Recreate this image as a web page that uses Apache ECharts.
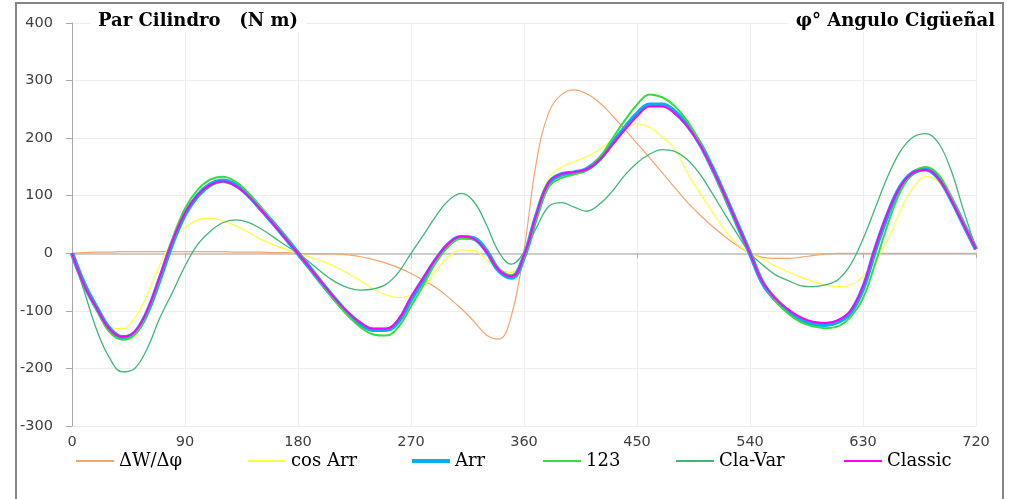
<!DOCTYPE html>
<html>
<head>
<meta charset="utf-8">
<title>Par Cilindro</title>
<script src="https://cdn.jsdelivr.net/npm/echarts@6/dist/echarts.min.js"></script>
<style>
  html, body { margin: 0; padding: 0; background: #ffffff; }
  #chart { width: 1011px; height: 499px; }
</style>
</head>
<body>
<div id="chart"></div>
<script>
// Crank angle (degrees), one sample every 10°
const angles = [
  0, 10, 20, 30, 40, 50, 60, 70, 80, 90,
  100, 110, 120, 130, 140, 150, 160, 170, 180, 190,
  200, 210, 220, 230, 240, 250, 260, 270, 280, 290,
  300, 310, 320, 330, 340, 350, 360, 370, 380, 390,
  400, 410, 420, 430, 440, 450, 460, 470, 480, 490,
  500, 510, 520, 530, 540, 550, 560, 570, 580, 590,
  600, 610, 620, 630, 640, 650, 660, 670, 680, 690,
  700, 710, 720
];

// Cylinder torque (N m) for each method
const dWdPhi = [
  0, 1, 2, 2, 3, 3, 3, 3, 3, 3,
  3, 3, 3, 2, 2, 2, 1, 1, 0, -1,
  -1, -1, -3, -6, -11, -17, -25, -35, -47, -60,
  -77, -96, -118, -142, -149, -108, 5, 160, 246, 276,
  284, 277, 262, 240, 216, 191, 166, 140, 114, 89,
  67, 47, 29, 13, 0, -7, -9, -9, -7, -4,
  -1, 0, 0, 0, 0, 0, 0, 0, 0, 0,
  0, 0, 0
];

const cosArr = [
  0, -52, -95, -127, -131, -112, -72, -20, 22, 45,
  58, 61, 56, 48, 37, 25, 15, 7, 0, -7,
  -14, -24, -35, -48, -62, -72, -77, -73, -58, -30,
  -6, 6, 5, -11, -28, -33, -3, 76, 132, 150,
  159, 168, 180, 197, 216, 225, 219, 202, 182, 140,
  105, 72, 40, 15, 0, -10, -22, -32, -41, -49,
  -55, -58, -55, -40, -13, 25, 75, 114, 133, 124,
  90, 45, 6
];

const arr = [
  0, -55, -96, -131, -146, -138, -102, -44, 18, 68,
  100, 119, 126, 119, 102, 78, 53, 27, 0, -27,
  -55, -81, -105, -123, -133, -133, -118, -80, -45, -11,
  16, 28, 26, 4, -30, -42, -6, 66, 122, 137,
  140, 146, 163, 190, 217, 242, 258, 258, 246, 223,
  191, 148, 100, 50, 0, -51, -80, -100, -114, -122,
  -124, -119, -103, -61, 8, 69, 116, 140, 146, 131,
  95, 51, 7
];

const m123 = [
  0, -58, -100, -137, -150, -141, -103, -42, 25, 78,
  110, 128, 133, 125, 106, 81, 54, 27, 0, -28,
  -56, -84, -109, -129, -141, -143, -128, -92, -55, -15,
  12, 26, 24, 3, -27, -38, -8, 62, 116, 131,
  137, 145, 166, 198, 230, 258, 276, 271, 256, 230,
  193, 146, 97, 48, 0, -50, -82, -104, -119, -127,
  -130, -127, -111, -78, -16, 52, 108, 140, 150, 137,
  99, 53, 8
];

const claVar = [
  0, -68, -135, -182, -206, -200, -165, -112, -68, -22,
  15, 38, 53, 58, 54, 43, 29, 14, 0, -17,
  -35, -50, -60, -64, -62, -54, -33, 0, 32, 65,
  92, 104, 90, 50, 2, -19, 2, 45, 82, 88,
  80, 73, 85, 107, 135, 157, 172, 180, 177, 163,
  138, 104, 68, 33, 0, -20, -37, -47, -56, -58,
  -55, -46, -20, 25, 80, 135, 178, 202, 208, 192,
  145, 75, 8
];

const classic = [
  0, -57, -97, -132, -145, -136, -99, -40, 22, 70,
  101, 119, 125, 117, 100, 77, 52, 26, 0, -27,
  -54, -80, -103, -121, -131, -131, -115, -76, -42, -9,
  17, 29, 25, 3, -29, -40, -4, 68, 124, 138,
  141, 146, 162, 188, 214, 238, 255, 255, 243, 221,
  189, 147, 100, 50, 0, -50, -78, -97, -111, -119,
  -121, -116, -100, -57, 12, 72, 117, 140, 145, 130,
  94, 50, 7
];

const seriesNames = ['ΔW/Δφ', 'cos Arr', 'Arr', '123', 'Cla-Var', 'Classic'];
const seriesValues = [dWdPhi, cosArr, arr, m123, claVar, classic];
const seriesColors = ['#f5a56c', '#ffff3a', '#00b0f0', '#38dc3c', '#3fb877', '#ff00ff'];
const seriesWidths = [1.2, 1.2, 4.5, 2, 1.3, 2];
const legendLefts = [71, 243, 407, 538, 671, 839];

const serifFont = '"DejaVu Serif", "Liberation Serif", serif';
const sansFont = '"DejaVu Sans", Verdana, sans-serif';

const chart = echarts.init(document.getElementById('chart'), null, { renderer: 'canvas' });

const series = seriesNames.map((name, i) => ({
  name: name,
  type: 'line',
  data: angles.map((a, k) => [a, seriesValues[i][k]]),
  smooth: 0.4,
  showSymbol: false,
  symbol: 'none',
  lineStyle: { color: seriesColors[i], width: seriesWidths[i] },
  itemStyle: { color: seriesColors[i] },
  z: 2 + i,
  animation: false
}));

// One legend per series so each entry sits at its own spot; icon is a short bar
const legends = seriesNames.map((name, i) => ({
  data: [{ name: name, icon: 'rect' }],
  left: legendLefts[i],
  top: 447,
  itemWidth: 38,
  itemHeight: seriesWidths[i] > 3 ? 4 : 2,
  textStyle: { fontFamily: serifFont, fontSize: 18, color: '#000000' },
  selectedMode: false
}));

chart.setOption({
  backgroundColor: '#ffffff',
  animation: false,
  title: [
    {
      text: 'Par Cilindro   (N m)',
      left: 90,
      top: 10,
      padding: [2, 8],
      backgroundColor: '#ffffff',
      textStyle: { fontFamily: serifFont, fontWeight: 'bold', fontSize: 18, color: '#000000' },
      z: 10
    },
    {
      text: 'φ° Angulo Cigüeñal',
      right: 8,
      top: 10,
      padding: [2, 8],
      backgroundColor: '#ffffff',
      textStyle: { fontFamily: serifFont, fontWeight: 'bold', fontSize: 18, color: '#000000' },
      z: 10
    }
  ],
  legend: legends,
  grid: { left: 72, right: 35, top: 23, bottom: 73, containLabel: false },
  xAxis: {
    type: 'value',
    min: 0,
    max: 720,
    interval: 90,
    axisLine: { show: true, onZero: true, lineStyle: { color: '#c0c0c0', width: 1.6 } },
    axisTick: { show: true, length: 5, lineStyle: { color: '#b0b0b0' } },
    axisLabel: { margin: 9, fontFamily: sansFont, fontSize: 14.5, color: '#404040' },
    splitLine: { show: true, lineStyle: { color: '#ededed', width: 1 } }
  },
  yAxis: {
    type: 'value',
    min: -300,
    max: 400,
    interval: 100,
    axisLine: { show: true, lineStyle: { color: '#a8a8a8', width: 1 } },
    axisTick: { show: true, length: 6, lineStyle: { color: '#a8a8a8' } },
    axisLabel: { margin: 19, fontFamily: sansFont, fontSize: 14.5, color: '#404040' },
    splitLine: { show: true, lineStyle: { color: '#ededed', width: 1 } }
  },
  graphic: [
    {
      type: 'rect',
      silent: true,
      shape: { x: 16, y: 3, width: 987, height: 520 },
      style: { fill: 'none', stroke: '#858585', lineWidth: 2 },
      z: 100
    }
  ],
  series: series
});
</script>
</body>
</html>
